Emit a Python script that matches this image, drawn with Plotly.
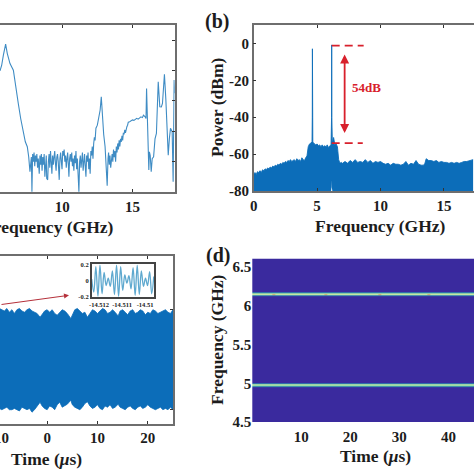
import plotly.graph_objects as go

# ---------- panel (a) ----------
a_freq = [5.58,5.70,5.82,5.98,6.10,6.29,6.53,6.69,6.88,7.05,7.24,7.38,7.52,7.62,7.71,7.81,7.85,7.90,
 7.95,8.00,8.05,8.10,8.15,8.20,8.25,8.30,8.37,8.42,8.47,8.52,8.57,8.62,8.67,8.72,8.77,8.82,8.87,8.90,8.97,9.02,
 9.07,9.12,9.17,9.22,9.27,9.32,9.37,9.42,9.47,9.52,9.57,9.62,9.67,9.72,9.79,9.84,9.89,9.94,9.99,10.04,
 10.09,10.14,10.19,10.24,10.29,10.34,10.39,10.44,10.48,10.53,10.58,10.63,10.68,10.73,10.78,10.83,10.88,10.93,10.98,11.03,
 11.08,11.13,11.19,11.24,11.29,11.34,11.39,11.44,11.49,11.54,11.59,11.64,11.69,11.74,11.79,11.84,11.89,11.94,11.99,12.04,
 12.09,12.14,12.19,12.24,12.29,12.34,12.40,12.50,12.60,12.70,12.78,12.86,12.95,13.05,13.12,13.20,13.26,13.30,13.35,13.40,13.45,13.50,13.55,13.60,13.65,
 13.70,13.75,13.80,13.85,13.90,13.95,14.00,14.05,14.10,14.15,14.20,14.25,14.30,14.35,14.40,14.45,14.50,14.55,14.60,14.65,14.70,14.80,14.90,15.00,
 15.10,15.20,15.30,15.40,15.50,15.60,15.70,15.78,15.90,15.96,16.00,16.08,16.16,16.20,16.26,16.33,16.40,16.50,16.60,16.70,16.83,16.94,17.05,17.13,17.27,17.37,17.54,17.62,17.70,17.82,17.89,17.96,18.0]
a_power = [-0.2,3.5,10.1,17.4,11.2,4.6,0.2,-8.5,-21.7,-31.6,-40.3,-46.9,-50.2,-56.8,-66.6,-57,-79.8,-55,
 -60,-54,-63,-56,-60,-55,-64,-58,-68,-56,-62,-55,-66,-57,-62,-55,-70,-60,-56,-71,-72,-60,
 -55,-64,-53,-60,-68,-56,-62,-57,-53,-61,-66,-57,-55,-60,-72,-58,-54,-60,-65,-53,
 -56,-52,-60,-56,-64,-58,-54,-62,-70,-58,-55,-60,-54,-63,-58,-66,-56,-61,-53,-65,
 -58,-68,-79.8,-60,-56,-64,-58,-54,-66,-60,-55,-63,-70,-56,-60,-54,-65,-58,-68,-53,
 -56,-50,-58,-48,-44,-46,-38,-36,-32,-26,-17.3,-30,-42,-50,-60,-75.8,-58,-54,-62,-56,-64,-58,-55,-60,-52,
 -57,-53,-60,-50,-54,-48,-52,-46,-50,-45,-47,-43,-46,-41,-42,-39,-41,-38,-37,-36,-34,-33.7,-33,-32.5,
 -32.8,-32,-31.5,-32,-31,-30.5,-31,-29.4,-30.5,-31.6,-11.8,-40,-65.5,-53.5,-56,-66.6,-58,-56.8,-45,-41.4,-7.4,-23.9,-24,-21.7,-2.4,-19,-55.7,-45,-38,-40.3,-73.2,-6.3,-15]

# ---------- panel (b) ----------
b_freq = [0.0,0.1,0.2,0.3,0.4,0.5,0.6,0.7,0.8,0.9,1.0,1.1,1.2,1.3,1.4,1.5,1.6,1.7,1.8,1.9,2.0,2.1,2.2,2.3,2.4,2.5,2.6,2.7,2.8,2.9,3.0,
 3.1,3.2,3.3,3.4,3.5,3.6,3.7,3.8,3.9,4.0,4.1,4.2,4.3,4.4,4.5,4.6,4.62,4.63,4.64,4.66,4.8,4.9,5.0,5.1,5.2,5.3,5.4,5.5,5.6,5.7,5.8,5.9,6.0,6.1,6.14,6.15,6.16,6.2,
 6.3,6.4,6.5,6.6,6.7,6.8,6.9,7.0,7.2,7.4,7.6,7.8,8.0,8.2,8.4,8.6,8.8,9.0,9.2,9.4,9.6,9.8,10.0,10.2,10.4,10.6,10.8,11.0,11.2,11.4,11.6,11.8,12.0,12.2,12.4,12.6,12.8,13.0,13.2,13.4,13.5,13.6,13.8,14.0,14.2,14.4,14.6,14.8,15.0,15.2,15.4,15.6,15.8,16.0,16.2,16.4,16.6,16.8,17.0,17.3]
b_upper = [-71,-70,-71,-69.5,-70,-69,-70,-68.5,-69,-68,-68.5,-67.5,-68,-67,-67.5,-66.5,-67,-66,-66.5,-65.5,-66,-65,-65.5,-64.5,-65,-64,-64.5,-63.5,-64,-63,-64,
 -63.5,-63,-64,-62.5,-63.5,-63,-64,-62,-63,-63.5,-62,-61,-56,-54.5,-54,-53.5,-40,-2.9,-40,-53.5,-54.5,-55,-54.5,-55.5,-55,-56,-55,-56,-55.5,-56,-55,-56.5,-55.5,-55,-40,-0.8,-40,-54,
 -51,-55,-54.5,-56,-63,-65,-64.5,-65,-64,-65,-63.5,-64.5,-63,-64.5,-64,-64.5,-63,-64.5,-63.5,-65,-64,-64.5,-64,-65,-65.5,-65,-66,-65,-65.5,-65.5,-66,-65.5,-64,-66,-65,-65.5,-63.5,-65.5,-66,-66,-65,-62.5,-63.5,-63.5,-64,-63.5,-64.5,-64,-64.5,-64.5,-65,-64.5,-65,-64.5,-65,-64.5,-64,-64,-63.5,-63]
b_lower = [-80]*65 + [-78,-74,-78] + [-80]*(len(b_freq)-68)

# ---------- panel (c) ----------
c_time = [-9.5,-9,-8.5,-8,-7.5,-7,-6.5,-6,-5.5,-5,-4.5,-4,-3.5,-3,-2.5,-2,-1.4,-1,-0.5,0,0.5,1,1.5,2,2.5,3,3.5,4,4.7,5,5.5,6,6.5,7,7.5,8,8.5,9,9.5,10,10.5,11,11.5,12,12.5,13,13.5,14.1,14.5,15,15.5,16,16.5,17,17.5,18,18.5,19,19.5,20,20.5,21,21.5,22,22.5,23,23.5,24,24.5,25]
c_upper = [.205,.2,.195,.205,.19,.2,.185,.2,.205,.195,.19,.2,.205,.195,.19,.185,.17,.18,.195,.2,.19,.2,.185,.178,.19,.2,.195,.185,.165,.18,.2,.205,.195,.185,.19,.17,.185,.2,.195,.185,.195,.205,.2,.185,.19,.2,.19,.175,.195,.2,.19,.18,.195,.2,.185,.19,.2,.195,.18,.19,.185,.2,.195,.185,.19,.195,.2,.19,.185,.2]
c_lower = [-.195,-.2,-.195,-.19,-.2,-.2,-.195,-.2,-.205,-.19,-.195,-.2,-.195,-.21,-.2,-.185,-.17,-.185,-.195,-.2,-.185,-.19,-.2,-.18,-.17,-.19,-.185,-.178,-.162,-.18,-.19,-.195,-.2,-.19,-.175,-.168,-.185,-.195,-.19,-.18,-.195,-.2,-.185,-.19,-.18,-.195,-.19,-.178,-.19,-.195,-.2,-.19,-.185,-.195,-.2,-.19,-.185,-.195,-.19,-.18,-.19,-.195,-.2,-.195,-.19,-.2,-.195,-.2,-.19,-.2]

inset_time = [-14.51232,-14.51223,-14.51214,-14.51205,-14.51196,-14.51187,-14.51178,-14.51169,-14.5116,-14.51151,-14.51142,-14.51133,-14.51124,-14.51115,-14.51106,-14.51097,-14.51088,-14.51079,-14.5107,-14.51061,-14.51052,-14.51043,-14.51034,-14.51025,-14.51016,-14.51007,-14.50998,-14.50989,-14.5098,-14.50971,-14.50962]
inset_signal = [0.02,-0.14,0.17,-0.19,0.19,-0.16,0.1,-0.06,0.03,-0.07,0.12,-0.17,0.19,-0.19,0.17,-0.12,0.07,-0.03,0.06,-0.1,0.16,-0.18,0.19,-0.17,0.12,-0.07,0.03,-0.06,0.11,-0.16,0.05]

# ---------- panel (d) ----------
d_time = [0.05,3.7,4.4,5.1,14.3,15,15.7,25.3,26,26.7,35.3,36,36.7,45.2]
d_freq = [4.5,4.945,4.96,4.972,4.98,4.988,5.0,5.015,6.0,6.115,6.13,6.141,6.149,6.157,6.168,6.183,6.61]
d_level = [0,0,0.3,0.6,0.68,0.6,0.3,0,0,0,0.3,0.62,0.74,0.62,0.3,0,0]
d_hot_row = 12
d_hot_col = [2,5,8,11]
d_hot_level = 0.9
d_z = [[lv]*len(d_time) for lv in d_level]
for col in d_hot_col:
    d_z[d_hot_row][col] = d_hot_level

xtick_a = [10,15]
xtick_b = [0,5,10,15]
ytick_b = [0,-20,-40,-60,-80]
ytick_b_text = ["0","-20","-40","-60","-80"]
xtick_c = [0,10,20]
ytick_c = [-0.2,0.2]
xtick_d = [10,20,30,40]
ytick_d = [4.5,5,5.5,6,6.5]
ytick_d_text = ["4.5","5","5.5","6","6.5"]

W = 474
SERIF = "Liberation Serif"
BLUE = "#0c6db9"
LINE_A = "#3f8cc4"
RED = "#d8202c"
GREY = "#6e6e6e"
TXT = "#1c1c1c"

def dx(a, b): return [a / W, b / W]
def dy(top, bottom): return [1 - bottom / W, 1 - top / W]

tf = dict(family=SERIF, size=15, color=TXT, weight=700)
ax_common = dict(showgrid=False, zeroline=False, showline=True, linecolor=GREY, linewidth=1.5,
                 ticks="inside", ticklen=3, tickcolor="#333333", tickfont=tf)

fig = go.Figure()
fig.add_trace(go.Scatter(x=a_freq, y=a_power, mode="lines", line=dict(color=LINE_A, width=1.1),
                         xaxis="x", yaxis="y", showlegend=False))
fig.add_trace(go.Scatter(x=b_freq, y=b_lower, mode="lines", line=dict(color=BLUE, width=0),
                         xaxis="x2", yaxis="y2", showlegend=False))
fig.add_trace(go.Scatter(x=b_freq, y=b_upper, mode="lines", line=dict(color=BLUE, width=0.9),
                         fill="tonexty", fillcolor=BLUE, xaxis="x2", yaxis="y2", showlegend=False))
fig.add_trace(go.Scatter(x=c_time, y=c_lower, mode="lines", line=dict(color=BLUE, width=0.8),
                         xaxis="x3", yaxis="y3", showlegend=False))
fig.add_trace(go.Scatter(x=c_time, y=c_upper, mode="lines", line=dict(color=BLUE, width=0.8),
                         fill="tonexty", fillcolor=BLUE, xaxis="x3", yaxis="y3", showlegend=False))
fig.add_trace(go.Heatmap(x=d_time, y=d_freq, z=d_z, zmin=0, zmax=1, showscale=False, xaxis="x4", yaxis="y4",
                         colorscale=[[0, "#3a2a9e"], [0.3, "#2f7fb0"], [0.5, "#6fcf9f"],
                                     [0.72, "#c8eea8"], [0.85, "#e6cf80"], [1, "#d8604a"]]))
fig.add_trace(go.Scatter(x=inset_time, y=inset_signal, mode="lines", line=dict(color="#5fa9cf", width=1.3, shape="spline"),
                         xaxis="x5", yaxis="y5", showlegend=False))

layout = dict(
    width=W, height=W, autosize=False, margin=dict(l=0, r=0, t=0, b=0, pad=0, autoexpand=False),
    paper_bgcolor="white", plot_bgcolor="white",
    xaxis=dict(ax_common, domain=dx(0, 174.7), range=[5.58, 18], tickvals=xtick_a, mirror="ticks", anchor="y"),
    yaxis=dict(ax_common, domain=dy(25, 192), range=[-80, 30], side="right", tickvals=[20, 0, -20, -40, -60],
               showticklabels=False, anchor="x"),
    xaxis2=dict(ax_common, domain=dx(253.7, 474), range=[0, 17.37], tickvals=xtick_b, mirror="ticks", anchor="y2"),
    yaxis2=dict(ax_common, domain=dy(25, 191), range=[-80, 10], tickvals=ytick_b, ticktext=ytick_b_text, anchor="x2"),
    xaxis3=dict(ax_common, domain=dx(0, 173), range=[-9.36, 25], tickvals=xtick_c, mirror="ticks", anchor="y3"),
    yaxis3=dict(ax_common, domain=dy(256, 423.7), range=[-0.256, 0.415], side="right", tickvals=ytick_c,
                showticklabels=False, anchor="x3"),
    xaxis4=dict(ax_common, domain=dx(252.3, 474), range=[0.05, 45.2], tickvals=xtick_d, anchor="y4",
                showline=False, ticks="", ticklabelstandoff=4),
    yaxis4=dict(ax_common, domain=dy(258.7, 422), range=[4.5, 6.61], tickvals=ytick_d, ticktext=ytick_d_text,
                anchor="x4", showline=False, ticks=""),
    xaxis5=dict(showgrid=False, zeroline=False, showline=True, mirror=True, linecolor="#444444", linewidth=1.5,
                domain=dx(91.7, 154), range=[-14.51232, -14.50961], tickvals=[-14.512, -14.511, -14.51],
                ticktext=["-14.512", "-14.511", "-14.51"], ticks="", anchor="y5",
                tickfont=dict(family=SERIF, size=6.5, color=TXT, weight=700)),
    yaxis5=dict(showgrid=False, zeroline=False, showline=True, mirror=True, linecolor="#444444", linewidth=1.5,
                domain=dy(264.3, 297), range=[-0.2, 0.2], tickvals=[-0.2, 0, 0.2], ticktext=["-0.2", "0", "0.2"],
                ticks="", anchor="x5", tickfont=dict(family=SERIF, size=6.5, color=TXT, weight=700)),
)

def label(text, px, py, size=17.5, angle=0, color=TXT):
    return dict(text=text, x=px / W, y=1 - py / W, xref="paper", yref="paper", showarrow=False,
                xanchor="center", yanchor="middle", textangle=angle,
                font=dict(family=SERIF, size=size, color=color, weight=700))

annotations = [
    label("Frequency (GHz)", 48.5, 227),
    label("Frequency (GHz)", 380.7, 226),
    label("Time (<i>μ</i>s)", 46.5, 459),
    label("Time (<i>μ</i>s)", 375.5, 456),
    label("Power (dBm)", 217, 108, angle=-90),
    label("Frequency (GHz)", 217, 340, angle=-90),
    label("(b)", 216.5, 21, size=20),
    label("(d)", 218, 255, size=20),
    label("54dB", 366, 87.7, size=13, color=RED),
    label("10", 1, 438, size=15),
    dict(x=7.17, y=-48.6, ax=7.17, ay=-5.2, xref="x2", yref="y2", axref="x2", ayref="y2", text="",
         showarrow=True, arrowhead=2, arrowside="end+start", arrowsize=1, arrowwidth=1.8, arrowcolor=RED),
    dict(x=69 / W, y=1 - 295.3 / W, ax=-69, ay=9.4, xref="paper", yref="paper",
         text="", showarrow=True, arrowhead=2, arrowsize=1, arrowwidth=1, arrowcolor="#b5303a"),
]
shapes = [
    dict(type="line", xref="x2", yref="y2", x0=6.15, x1=8.67, y0=-1.2, y1=-1.2, line=dict(color=RED, width=1.8, dash="8px,5px")),
    dict(type="line", xref="x2", yref="y2", x0=6.15, x1=8.6, y0=-54, y1=-54, line=dict(color=RED, width=1.8, dash="8px,5px")),
]
fig.update_layout(**layout, annotations=annotations, shapes=shapes)
fig.write_html("out.html", config={"displayModeBar": False},
               post_script="document.body.style.margin='0';document.documentElement.style.overflow='hidden';")
